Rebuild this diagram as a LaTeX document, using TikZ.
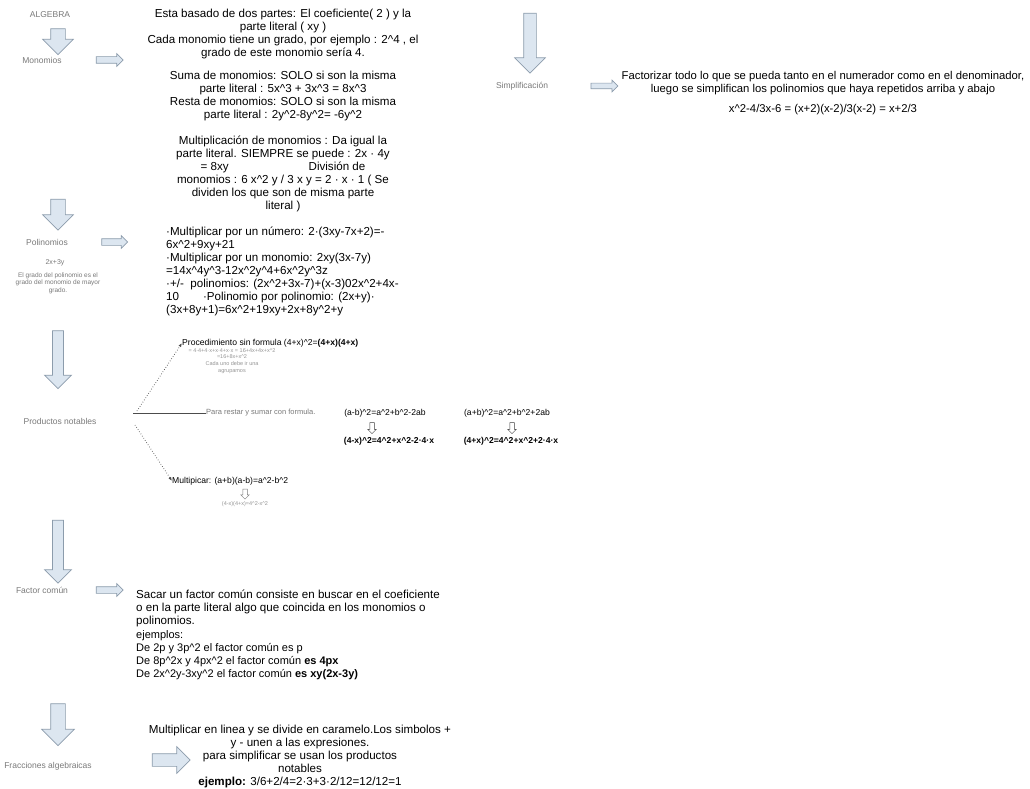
\documentclass[tikz,border=0pt]{standalone}
\usepackage{fontspec}
\setmainfont{Liberation Sans}
\usetikzlibrary{shapes.arrows,arrows.meta}
\definecolor{arrfill}{HTML}{DCE6F0}
\definecolor{arrline}{HTML}{8C9CAC}
\definecolor{lbl}{HTML}{7A7A7A}
\begin{document}
\begin{tikzpicture}[x=1pt,y=-1pt,
  txt/.style={font=\fontsize{11.6}{13}\selectfont,inner sep=0pt,align=center},
  txtl/.style={font=\fontsize{11.6}{13}\selectfont,inner sep=0pt,align=left},
  small/.style={font=\fontsize{8.6}{10}\selectfont,inner sep=0pt,align=left},
  lab/.style={font=\fontsize{8.5}{9.5}\selectfont,text=lbl,inner sep=0pt,align=center},
  tiny/.style={font=\fontsize{5.5}{7.2}\selectfont,text=lbl!80,inner sep=0pt,align=center},
  downarr/.style={single arrow,draw=arrline,fill=arrfill,line width=0.7pt,rotate=-90,
     inner xsep=0pt,single arrow head indent=0pt},
  rightarr/.style={single arrow,draw=arrline,fill=arrfill,line width=0.7pt,
     inner xsep=0pt,single arrow head indent=0pt},
  tarr/.style={single arrow,draw=black!75,fill=white,line width=0.5pt,rotate=-90,
     inner xsep=0pt,inner ysep=2pt,single arrow head indent=0pt,minimum width=8pt,minimum height=11pt,
     single arrow head extend=2pt},
  conn/.style={draw=black!70,line width=0.6pt,-{Latex[length=4pt,width=3pt]}}
]
\useasboundingbox[fill=white] (0,0) rectangle (1030,789);

% ---- left column labels ----
\node[lab] (alg) at (50,15) {ALGEBRA};
\node[downarr,inner ysep=7pt,minimum height=26pt,minimum width=30pt,single arrow head extend=8pt] (a1) at (58,38) {};
\node[lab] (mon) at (42,60) {Monomios};
\node[rightarr,inner ysep=3pt,minimum height=27pt,minimum width=12pt,single arrow head extend=3pt] (r1) at (108,60) {};

\node[downarr,inner ysep=7pt,minimum height=31pt,minimum width=30pt,single arrow head extend=8pt] (a2) at (58,211) {};
\node[lab] (pol) at (47,242) {Polinomios};
\node[rightarr,inner ysep=3pt,minimum height=26pt,minimum width=12pt,single arrow head extend=3pt] (r2) at (113,242) {};
\node[lab,font=\fontsize{7}{8}\selectfont] (pol2) at (55,263) {2x+3y};
\node[lab,font=\fontsize{6.5}{7.5}\selectfont] (pol3) at (58,283) {El grado del polinomio es el\\grado del monomio de mayor\\grado.};

\node[downarr,inner ysep=5pt,minimum height=58pt,minimum width=27pt,single arrow head extend=8pt] (a3) at (58,357) {};
\node[lab] (prod) at (60,421) {Productos notables};

\node[downarr,inner ysep=5pt,minimum height=63pt,minimum width=27pt,single arrow head extend=8pt] (a4) at (58,549) {};
\node[lab] (fac) at (42,590) {Factor común};
\node[rightarr,inner ysep=3pt,minimum height=27pt,minimum width=12pt,single arrow head extend=3pt] (r4) at (108,590) {};

\node[downarr,inner ysep=7pt,minimum height=42pt,minimum width=32pt,single arrow head extend=9pt] (a5) at (58,721) {};
\node[lab] (fra) at (48,766) {Fracciones algebraicas};
\node[rightarr,inner ysep=6pt,minimum height=38pt,minimum width=26pt,single arrow head extend=7pt] (r5) at (168,760) {};

% ---- top right ----
\node[downarr,inner ysep=6pt,minimum height=60pt,minimum width=30pt,single arrow head extend=9pt] (a6) at (530,40) {};
\node[lab] (sim) at (522,86) {Simplificación};
\node[rightarr,inner ysep=2.5pt,minimum height=27pt,minimum width=10pt,single arrow head extend=3pt] (r6) at (603,86) {};

% ---- text blocks ----
\node[txt,anchor=north] (t1) at (283,9) {Esta basado de dos partes: El coeficiente( 2 ) y la\\parte literal ( xy )\\Cada monomio tiene un grado, por ejemplo : 2\string^4 , el\\grado de este monomio sería 4.};
\node[txt,anchor=north] (t2) at (283,71) {Suma de monomios: SOLO si son la misma\\parte literal : 5x\string^3 + 3x\string^3 = 8x\string^3\\Resta de monomios: SOLO si son la misma\\parte literal : 2y\string^2-8y\string^2= -6y\string^2};
\node[txt,anchor=north] (t3) at (283,136) {Multiplicación de monomios : Da igual la\\parte literal. SIEMPRE se puede : 2x · 4y\\= 8xy\hspace{80pt}División de\\monomios : 6 x\string^2 y / 3 x y = 2 · x · 1 ( Se\\dividen los que son de misma parte\\literal )};
\node[txtl,anchor=north west] (t4) at (166,227) {·Multiplicar por un número: 2·(3xy-7x+2)=-\\6x\string^2+9xy+21\\·Multiplicar por un monomio: 2xy(3x-7y)\\=14x\string^4y\string^3-12x\string^2y\string^4+6x\string^2y\string^3z\\·+/-\ \ polinomios: (2x\string^2+3x-7)+(x-3)02x\string^2+4x-\\10\hspace{24pt}·Polinomio por polinomio: (2x+y)·\\(3x+8y+1)=6x\string^2+19xy+2x+8y\string^2+y};

% productos notables branches
\node[small,anchor=west] (p1) at (182,343) {Procedimiento sin formula (4+x)\string^2=\textbf{(4+x)(4+x)}};
\node[tiny,anchor=north] (p1b) at (232,348) {= 4·4+4·x+x·4+x·x = 16+4x+4x+x\string^2\\[-1pt]=16+8x+x\string^2\\Cada uno debe ir una\\agrupamos};
\node[lab,font=\fontsize{7.5}{8.5}\selectfont,anchor=west] (p2) at (206,413) {Para restar y sumar con formula.};
\node[small] (p2a) at (385,413) {(a-b)\string^2=a\string^2+b\string^2-2ab};
\node[tarr] (p2ar) at (372,427) {};
\node[small] (p2b) at (389,441) {\bfseries (4-x)\string^2=4\string^2+x\string^2-2·4·x};
\node[small] (p2c) at (507,413) {(a+b)\string^2=a\string^2+b\string^2+2ab};
\node[tarr] (p2cr) at (512,427) {};
\node[small] (p2d) at (511,441) {\bfseries (4+x)\string^2=4\string^2+x\string^2+2·4·x};
\node[small,anchor=west] (p3) at (172,481) {Multipicar: (a+b)(a-b)=a\string^2-b\string^2};
\node[tarr,draw=lbl,minimum height=10pt] (p3r) at (245,493) {};
\node[tiny] (p3b) at (245,504) {(4-x)(4+x)=4\string^2-x\string^2};

\coordinate (pu) at (137,411);
\coordinate (pm) at (133,413);
\coordinate (pd) at (135,425);
\draw[conn,dotted,line width=0.8pt] (pu) -- (p1.west);
\draw[draw=black!70,line width=0.6pt] (pm) -- (p2.west);
\draw[conn,dotted,line width=0.8pt] (pd) -- (p3.west);

\node[txtl,anchor=north west] (t5) at (136,590) {Sacar un factor común consiste en buscar en el coeficiente\\o en la parte literal algo que coincida en los monomios o\\polinomios.};
\node[txtl,anchor=north west,font=\fontsize{11}{13}\selectfont] (t6) at (136,630) {ejemplos:\\De 2p y 3p\string^2 el factor común es p\\De 8p\string^2x y 4px\string^2 el factor común \textbf{es 4px}\\De 2x\string^2y-3xy\string^2 el factor común \textbf{es xy(2x-3y)}};

\node[txt,anchor=north] (t7) at (300,725) {Multiplicar en linea y se divide en caramelo.Los simbolos +\\y - unen a las expresiones.\\para simplificar se usan los productos\\notables\\\textbf{ejemplo:} 3/6+2/4=2·3+3·2/12=12/12=1};

\node[txt,anchor=north,font=\fontsize{11.3}{13}\selectfont] (t8) at (823,71) {Factorizar todo lo que se pueda tanto en el numerador como en el denominador,\\luego se simplifican los polinomios que haya repetidos arriba y abajo};
\node[txt,anchor=north,font=\fontsize{11.3}{13}\selectfont] (t9) at (823,104) {x\string^2-4/3x-6 = (x+2)(x-2)/3(x-2) = x+2/3};
\end{tikzpicture}
\end{document}
